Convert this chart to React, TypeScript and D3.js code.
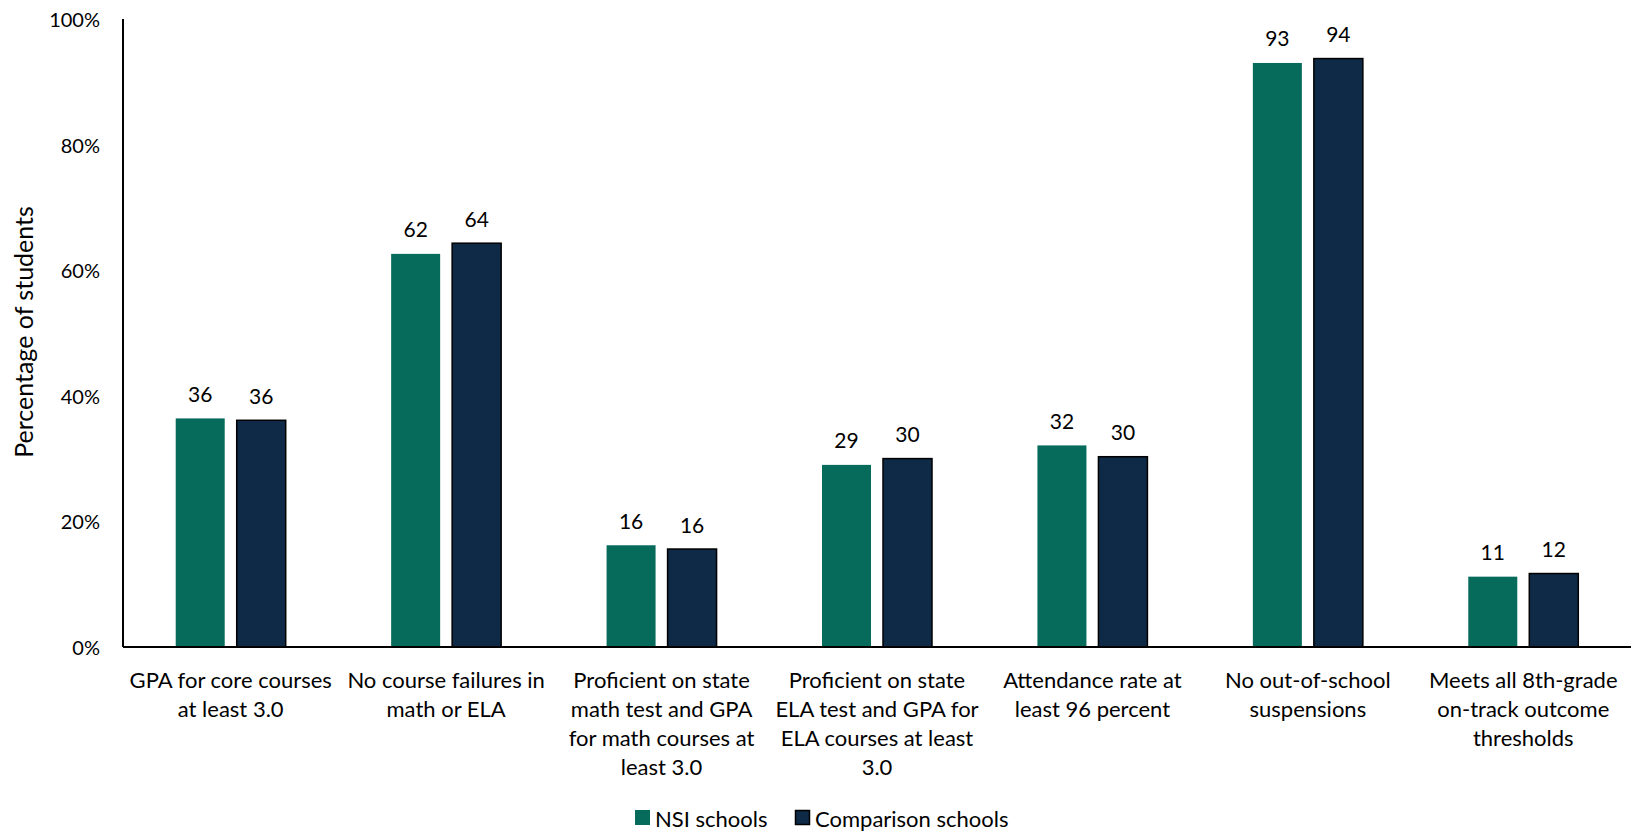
import React from "react";
import * as d3 from "d3";

const categories: string[][] = [
  ["GPA for core courses", "at least 3.0"],
  ["No course failures in", "math or ELA"],
  ["Proficient on state", "math test and GPA", "for math courses at", "least 3.0"],
  ["Proficient on state", "ELA test and GPA for", "ELA courses at least", "3.0"],
  ["Attendance rate at", "least 96 percent"],
  ["No out-of-school", "suspensions"],
  ["Meets all 8th-grade", "on-track outcome", "thresholds"],
];
const nsiValues = [36.4, 62.6, 16.2, 29.0, 32.1, 93.0, 11.2];
const comparisonValues = [36.1, 64.3, 15.6, 30.0, 30.3, 93.7, 11.7];
const nsiLabels = ["36", "62", "16", "29", "32", "93", "11"];
const comparisonLabels = ["36", "64", "16", "30", "30", "94", "12"];
const yTicks = [0, 20, 40, 60, 80, 100];
const seriesNames = ["NSI schools", "Comparison schools"];

const W = 1631;
const H = 832;
const left = 123;
const right = 1631;
const top = 19;
const bottom = 647;
const NSI_COLOR = "#066B5B";
const COMP_COLOR = "#0E2A47";
const FONT = "Lato, 'Open Sans', sans-serif";

export default function App() {
  const x = d3
    .scaleBand<number>()
    .domain(d3.range(categories.length))
    .range([left, right])
    .paddingInner(0)
    .paddingOuter(0);
  const y = d3.scaleLinear().domain([0, 100]).range([bottom, top]);
  const barW = 49;
  const gap = 12;

  return (
    <svg
      width={W}
      height={H}
      style={{ position: "fixed", left: 0, top: 0, background: "#fff" }}
      fontFamily={FONT}
    >
      {yTicks.map((t) => (
        <text
          key={t}
          x={left - 23}
          y={y(t)}
          textAnchor="end"
          dominantBaseline="central"
          fontSize={20}
          fill="#000"
        >
          {t}%
        </text>
      ))}
      <text
        transform={`translate(23,332) rotate(-90)`}
        textAnchor="middle"
        dominantBaseline="central"
        fontSize={25}
        fill="#000"
      >
        Percentage of students
      </text>
      {categories.map((lines, i) => {
        const c = (x(i) as number) + x.bandwidth() / 2;
        const x1 = c - gap / 2 - barW;
        const x2 = c + gap / 2;
        return (
          <g key={i}>
            <rect
              x={x1}
              y={y(nsiValues[i])}
              width={barW}
              height={y(0) - y(nsiValues[i])}
              fill={NSI_COLOR}
            />
            <rect
              x={x2}
              y={y(comparisonValues[i])}
              width={barW}
              height={y(0) - y(comparisonValues[i])}
              fill={COMP_COLOR}
              stroke="#000"
              strokeWidth={1.5}
            />
            <text
              x={x1 + barW / 2}
              y={y(nsiValues[i]) - 25}
              textAnchor="middle"
              dominantBaseline="central"
              fontSize={21}
            >
              {nsiLabels[i]}
            </text>
            <text
              x={x2 + barW / 2}
              y={y(comparisonValues[i]) - 25}
              textAnchor="middle"
              dominantBaseline="central"
              fontSize={21}
            >
              {comparisonLabels[i]}
            </text>
            {lines.map((ln, j) => (
              <text
                key={j}
                x={c}
                y={679 + j * 29}
                textAnchor="middle"
                dominantBaseline="central"
                fontSize={22}
              >
                {ln}
              </text>
            ))}
          </g>
        );
      })}
      <line x1={left} x2={left} y1={top} y2={bottom} stroke="#000" strokeWidth={2} />
      <line x1={left} x2={right} y1={bottom} y2={bottom} stroke="#000" strokeWidth={2} />
      <rect x={635} y={810} width={15} height={15} fill={NSI_COLOR} />
      <text x={655} y={818} dominantBaseline="central" fontSize={22}>
        {seriesNames[0]}
      </text>
      <rect x={795.5} y={810.5} width={14} height={14} fill={COMP_COLOR} stroke="#000" strokeWidth={1.5} />
      <text x={815} y={818} dominantBaseline="central" fontSize={22}>
        {seriesNames[1]}
      </text>
    </svg>
  );
}
